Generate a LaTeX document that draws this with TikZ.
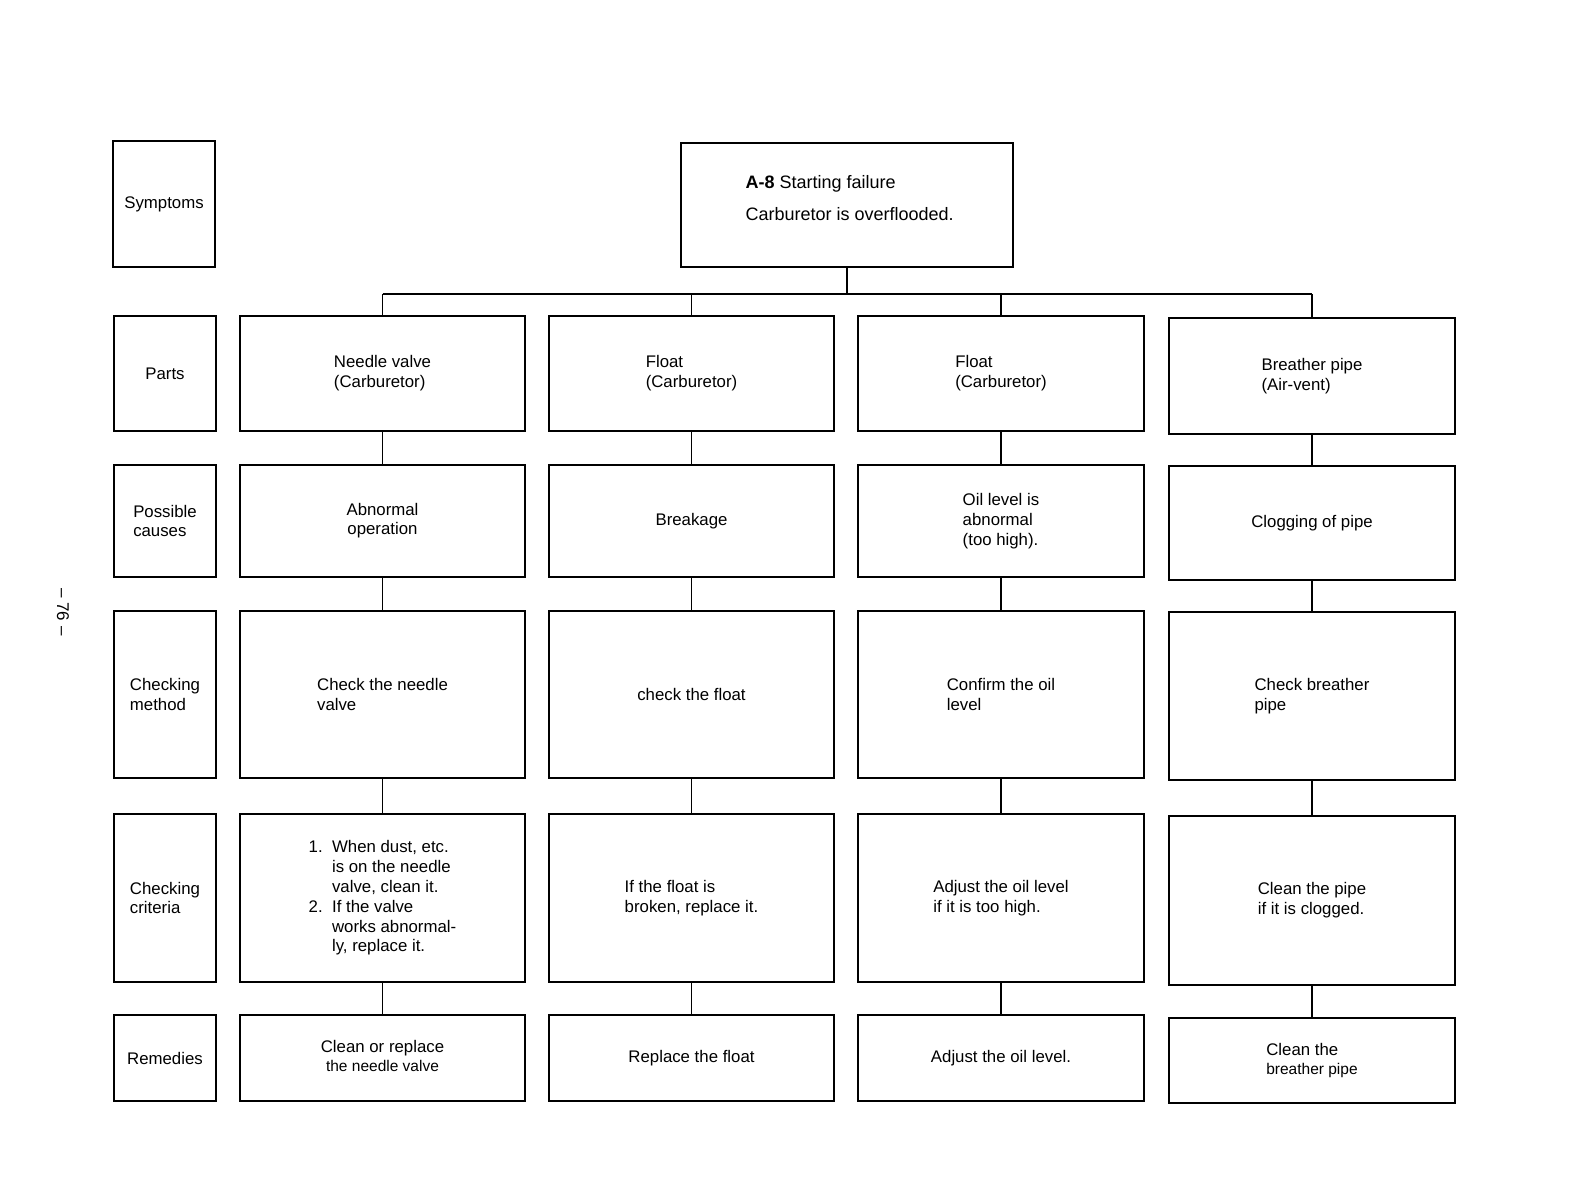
\documentclass[tikz,border=0pt]{standalone}
\usepackage{fontspec}
\setmainfont{Liberation Sans}
\tikzset{
  box/.style={draw, line width=1.8pt, inner sep=0pt, align=left, font=\fontsize{16.8}{19.8}\selectfont},
  conn/.style={line width=1.8pt},
}
\newcommand\bx[6]{\node[box, minimum width={(#4-#2)*1pt}, minimum height={(#5-#3)*1pt}] (#1) at ({(#2+#4)/2},{(#3+#5)/2}) {#6};}
\begin{document}
\begin{tikzpicture}[x=1pt,y=-1pt]
\useasboundingbox (0,0) rectangle (1585,1202);
% label column
\bx{sym}{113}{141}{215}{267}{Symptoms}
\bx{lparts}{114}{316}{216}{431}{Parts}
\bx{lcause}{114}{465}{216}{577}{Possible\\causes}
\bx{lcheck}{114}{611}{216}{778}{Checking\\method}
\bx{lcrit}{114}{814}{216}{982}{Checking\\criteria}
\bx{lrem}{114}{1015}{216}{1101}{Remedies}
% top
\node[draw, line width=1.8pt, minimum width=332pt, minimum height=124pt, inner sep=0pt] (top) at (847,205) {};
\node[anchor=west, align=left, font=\fontsize{18}{32}\selectfont] (toptext) at (742,198) {\textbf{A-8} Starting failure\\Carburetor is overflooded.};
% column 1
\bx{p1}{240}{316}{525}{431}{Needle valve\\(Carburetor)}
\bx{c1}{240}{465}{525}{577}{\begin{tabular}{@{}c@{}}Abnormal\\[-1pt]operation\end{tabular}}
\bx{m1}{240}{611}{525}{778}{Check the needle\\valve}
\bx{k1}{240}{814}{525}{982}{1.\ \ When dust, etc.\\\hphantom{1.\ \ }is on the needle\\\hphantom{1.\ \ }valve, clean it.\\2.\ \ If the valve\\\hphantom{2.\ \ }works abnormal-\\\hphantom{2.\ \ }ly, replace it.}
\bx{r1}{240}{1015}{525}{1101}{\begin{tabular}{@{}c@{}}Clean or replace\\[-1pt]{\fontsize{15.5}{19}\selectfont the needle valve}\end{tabular}}
% column 2
\bx{p2}{549}{316}{834}{431}{Float\\(Carburetor)}
\bx{c2}{549}{465}{834}{577}{Breakage}
\bx{m2}{549}{611}{834}{778}{check the float}
\bx{k2}{549}{814}{834}{982}{If the float is\\broken, replace it.}
\bx{r2}{549}{1015}{834}{1101}{Replace the float}
% column 3
\bx{p3}{858}{316}{1144}{431}{Float\\(Carburetor)}
\bx{c3}{858}{465}{1144}{577}{Oil level is\\abnormal\\(too high).}
\bx{m3}{858}{611}{1144}{778}{Confirm the oil\\level}
\bx{k3}{858}{814}{1144}{982}{Adjust the oil level\\if it is too high.}
\bx{r3}{858}{1015}{1144}{1101}{Adjust the oil level.}
% column 4
\bx{p4}{1169}{318}{1455}{434}{Breather pipe\\(Air-vent)}
\bx{c4}{1169}{466}{1455}{580}{Clogging of pipe}
\bx{m4}{1169}{612}{1455}{780}{Check breather\\pipe}
\bx{k4}{1169}{816}{1455}{985}{Clean the pipe\\if it is clogged.}
\bx{r4}{1169}{1018}{1455}{1103}{Clean the\\{\fontsize{15.5}{19}\selectfont breather pipe}}
% connectors
\coordinate (bus) at (top.south |- 0,294);
\draw[conn] (top.south) -- (bus);
\draw[conn] (p1.north |- bus) -- (p4.north |- bus);
\foreach \c in {1,2,3,4}{
  \draw[conn] (p\c.north |- bus) -- (p\c.north);
  \draw[conn] (p\c.south) -- (c\c.north);
  \draw[conn] (c\c.south) -- (m\c.north);
  \draw[conn] (m\c.south) -- (k\c.north);
  \draw[conn] (k\c.south) -- (r\c.north);
}
% page number
\node[rotate=-90, font=\fontsize{17}{20}\selectfont] (pg) at (63,612) {-- 76 --};
\end{tikzpicture}
\end{document}
